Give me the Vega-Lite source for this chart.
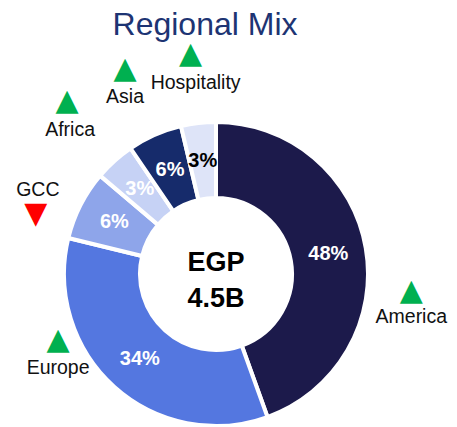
{
  "$schema": "https://vega.github.io/schema/vega-lite/v6.json",
  "width": 432,
  "height": 300,
  "autosize": "none",
  "padding": {"top": 124, "left": 0, "right": 25, "bottom": 3},
  "background": "#ffffff",
  "view": {"stroke": null},
  "title": {"text": "Regional Mix", "fontSize": 32, "font": "Liberation Sans", "fontWeight": "normal", "color": "#1d3473", "anchor": "middle", "dx": -11, "offset": -14},
  "data": {"values": [
    {"region": "America", "share": 44.5, "label": "48%", "trend": "up", "rank": 1},
    {"region": "Europe", "share": 34.3, "label": "34%", "trend": "up", "rank": 2},
    {"region": "GCC", "share": 7.4, "label": "6%", "trend": "down", "rank": 3},
    {"region": "Africa", "share": 4.3, "label": "3%", "trend": "up", "rank": 4},
    {"region": "Asia", "share": 5.8, "label": "6%", "trend": "up", "rank": 5},
    {"region": "Hospitality", "share": 3.7, "label": "3%", "trend": "up", "rank": 6}
  ]},
  "layer": [
    {
      "mark": {"type": "arc", "outerRadius": 152, "innerRadius": 76, "stroke": "#ffffff", "strokeWidth": 4},
      "encoding": {
        "theta": {"field": "share", "type": "quantitative", "stack": true},
        "order": {"field": "rank", "type": "quantitative"},
        "color": {"field": "region", "type": "nominal", "legend": null,
          "scale": {"domain": ["America", "Europe", "GCC", "Africa", "Asia", "Hospitality"],
                    "range": ["#1c1a4b", "#5477e0", "#8ea5ea", "#c6d2f5", "#162b6b", "#dee4f8"]}}
      }
    },
    {
      "mark": {"type": "text", "radius": 114, "font": "Liberation Sans", "fontSize": 20, "fontWeight": "bold", "baseline": "middle", "align": "center"},
      "encoding": {
        "theta": {"field": "share", "type": "quantitative", "stack": true},
        "order": {"field": "rank", "type": "quantitative"},
        "detail": {"field": "region", "type": "nominal"},
        "text": {"field": "label", "type": "nominal"},
        "color": {"condition": {"test": "datum.region === 'Hospitality'", "value": "#000000"}, "value": "#ffffff"}
      }
    },
    {
      "data": {"values": [{"total": "EGP 4.5B"}]},
      "mark": {"type": "text", "font": "Liberation Sans", "fontSize": 27, "fontWeight": "bold", "lineHeight": 36, "baseline": "middle", "align": "center", "color": "#000000", "dy": -11},
      "encoding": {"text": {"value": ["EGP", "4.5B"]}}
    },
    {
      "mark": {"type": "text", "radius": 192, "thetaOffset": 0.01, "font": "Liberation Sans", "fontSize": 19.5, "baseline": "middle", "align": "center", "color": "#111111"},
      "encoding": {
        "theta": {"field": "share", "type": "quantitative", "stack": true},
        "order": {"field": "rank", "type": "quantitative"},
        "detail": {"field": "region", "type": "nominal"},
        "text": {"condition": {"test": "datum.region === 'Hospitality'", "field": "region", "type": "nominal"}, "value": ""}
      }
    },
    {
      "mark": {"type": "text", "radius": 199, "thetaOffset": -0.06, "font": "Liberation Sans", "fontSize": 19.5, "baseline": "middle", "align": "center", "color": "#111111"},
      "encoding": {
        "theta": {"field": "share", "type": "quantitative", "stack": true},
        "order": {"field": "rank", "type": "quantitative"},
        "detail": {"field": "region", "type": "nominal"},
        "text": {"condition": {"test": "datum.region === 'Asia'", "field": "region", "type": "nominal"}, "value": ""}
      }
    },
    {
      "mark": {"type": "text", "radius": 205, "thetaOffset": -0.06, "font": "Liberation Sans", "fontSize": 19.5, "baseline": "middle", "align": "center", "color": "#111111"},
      "encoding": {
        "theta": {"field": "share", "type": "quantitative", "stack": true},
        "order": {"field": "rank", "type": "quantitative"},
        "detail": {"field": "region", "type": "nominal"},
        "text": {"condition": {"test": "datum.region === 'Africa'", "field": "region", "type": "nominal"}, "value": ""}
      }
    },
    {
      "mark": {"type": "text", "radius": 197, "thetaOffset": -0.03, "font": "Liberation Sans", "fontSize": 19.5, "baseline": "middle", "align": "center", "color": "#111111"},
      "encoding": {
        "theta": {"field": "share", "type": "quantitative", "stack": true},
        "order": {"field": "rank", "type": "quantitative"},
        "detail": {"field": "region", "type": "nominal"},
        "text": {"condition": {"test": "datum.region === 'GCC'", "field": "region", "type": "nominal"}, "value": ""}
      }
    },
    {
      "mark": {"type": "text", "radius": 184, "thetaOffset": 0.30, "font": "Liberation Sans", "fontSize": 19.5, "baseline": "middle", "align": "center", "color": "#111111"},
      "encoding": {
        "theta": {"field": "share", "type": "quantitative", "stack": true},
        "order": {"field": "rank", "type": "quantitative"},
        "detail": {"field": "region", "type": "nominal"},
        "text": {"condition": {"test": "datum.region === 'Europe'", "field": "region", "type": "nominal"}, "value": ""}
      }
    },
    {
      "mark": {"type": "text", "radius": 200, "thetaOffset": 0.39, "font": "Liberation Sans", "fontSize": 19.5, "baseline": "middle", "align": "center", "color": "#111111"},
      "encoding": {
        "theta": {"field": "share", "type": "quantitative", "stack": true},
        "order": {"field": "rank", "type": "quantitative"},
        "detail": {"field": "region", "type": "nominal"},
        "text": {"condition": {"test": "datum.region === 'America'", "field": "region", "type": "nominal"}, "value": ""}
      }
    },
    {
      "mark": {"type": "text", "radius": 192, "thetaOffset": 0.01, "dy": -29, "dx": -5, "font": "DejaVu Sans", "fontSize": 30, "baseline": "middle", "align": "center"},
      "encoding": {
        "theta": {"field": "share", "type": "quantitative", "stack": true},
        "order": {"field": "rank", "type": "quantitative"},
        "detail": {"field": "region", "type": "nominal"},
        "color": {"condition": {"test": "datum.trend === 'down'", "value": "#ff0000"}, "value": "#00b050"},
        "text": {"condition": {"test": "datum.region === 'Hospitality'", "value": "▲"}, "value": ""}
      }
    },
    {
      "mark": {"type": "text", "radius": 199, "thetaOffset": -0.06, "dy": -28, "font": "DejaVu Sans", "fontSize": 30, "baseline": "middle", "align": "center"},
      "encoding": {
        "theta": {"field": "share", "type": "quantitative", "stack": true},
        "order": {"field": "rank", "type": "quantitative"},
        "detail": {"field": "region", "type": "nominal"},
        "color": {"condition": {"test": "datum.trend === 'down'", "value": "#ff0000"}, "value": "#00b050"},
        "text": {"condition": {"test": "datum.region === 'Asia'", "value": "▲"}, "value": ""}
      }
    },
    {
      "mark": {"type": "text", "radius": 205, "thetaOffset": -0.06, "dy": -29, "dx": -3, "font": "DejaVu Sans", "fontSize": 30, "baseline": "middle", "align": "center"},
      "encoding": {
        "theta": {"field": "share", "type": "quantitative", "stack": true},
        "order": {"field": "rank", "type": "quantitative"},
        "detail": {"field": "region", "type": "nominal"},
        "color": {"condition": {"test": "datum.trend === 'down'", "value": "#ff0000"}, "value": "#00b050"},
        "text": {"condition": {"test": "datum.region === 'Africa'", "value": "▲"}, "value": ""}
      }
    },
    {
      "mark": {"type": "text", "radius": 197, "thetaOffset": -0.03, "dy": 24, "dx": -2, "font": "DejaVu Sans", "fontSize": 30, "baseline": "middle", "align": "center"},
      "encoding": {
        "theta": {"field": "share", "type": "quantitative", "stack": true},
        "order": {"field": "rank", "type": "quantitative"},
        "detail": {"field": "region", "type": "nominal"},
        "color": {"condition": {"test": "datum.trend === 'down'", "value": "#ff0000"}, "value": "#00b050"},
        "text": {"condition": {"test": "datum.region === 'GCC'", "value": "▼"}, "value": ""}
      }
    },
    {
      "mark": {"type": "text", "radius": 184, "thetaOffset": 0.30, "dy": -28, "font": "DejaVu Sans", "fontSize": 30, "baseline": "middle", "align": "center"},
      "encoding": {
        "theta": {"field": "share", "type": "quantitative", "stack": true},
        "order": {"field": "rank", "type": "quantitative"},
        "detail": {"field": "region", "type": "nominal"},
        "color": {"condition": {"test": "datum.trend === 'down'", "value": "#ff0000"}, "value": "#00b050"},
        "text": {"condition": {"test": "datum.region === 'Europe'", "value": "▲"}, "value": ""}
      }
    },
    {
      "mark": {"type": "text", "radius": 200, "thetaOffset": 0.39, "dy": -26, "font": "DejaVu Sans", "fontSize": 30, "baseline": "middle", "align": "center"},
      "encoding": {
        "theta": {"field": "share", "type": "quantitative", "stack": true},
        "order": {"field": "rank", "type": "quantitative"},
        "detail": {"field": "region", "type": "nominal"},
        "color": {"condition": {"test": "datum.trend === 'down'", "value": "#ff0000"}, "value": "#00b050"},
        "text": {"condition": {"test": "datum.region === 'America'", "value": "▲"}, "value": ""}
      }
    }
  ]
}
